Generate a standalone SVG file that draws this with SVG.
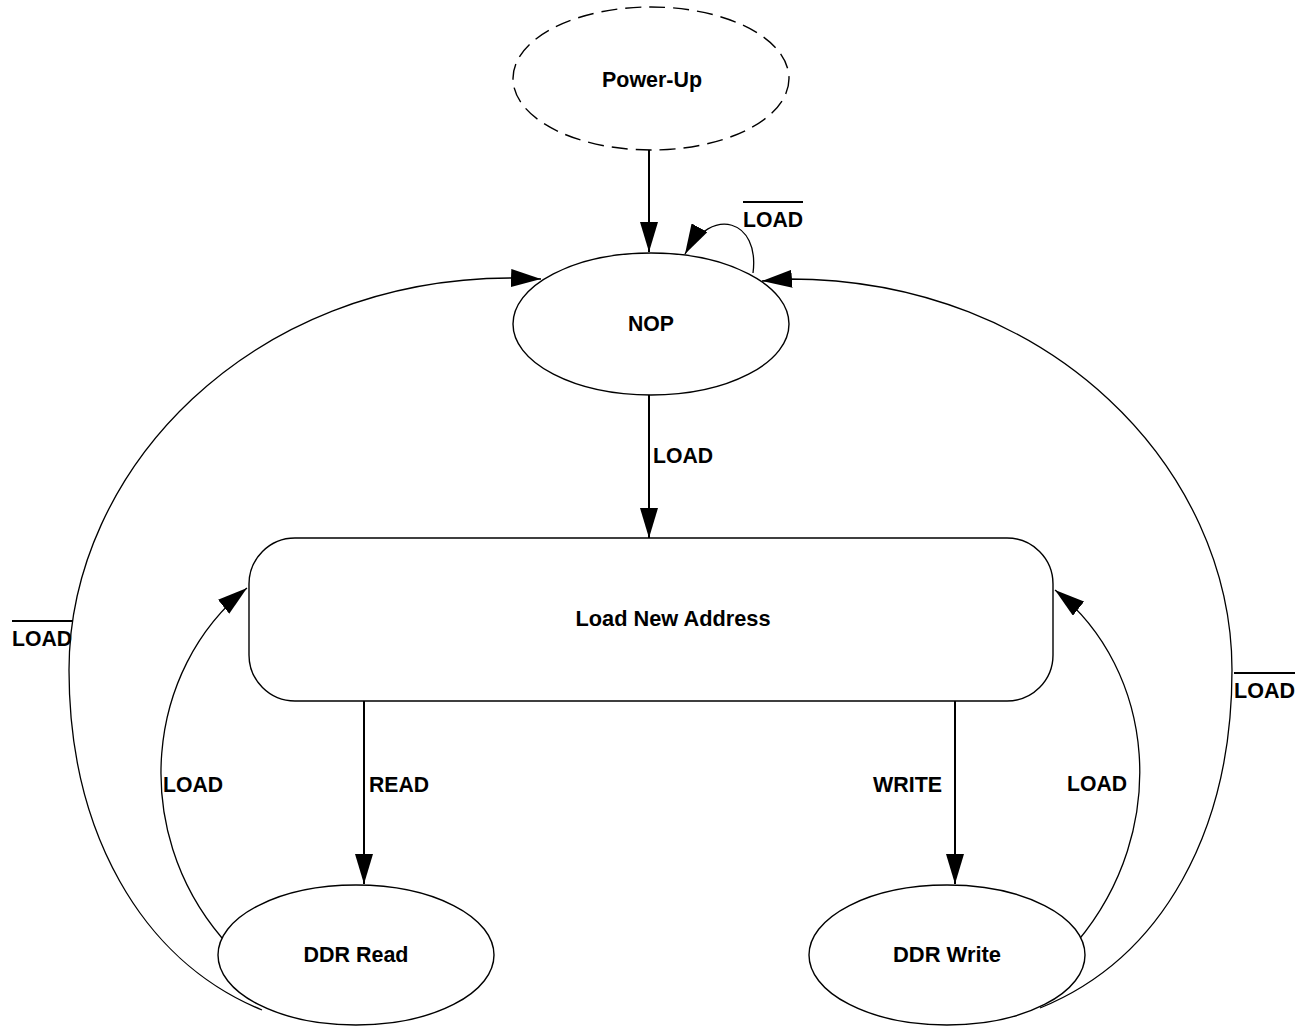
<svg xmlns="http://www.w3.org/2000/svg" width="1307" height="1027" viewBox="0 0 1307 1027">
<style>
.node{fill:#fff;stroke:#000;stroke-width:1.4}
.dash{fill:#fff;stroke:#000;stroke-width:1.4;stroke-dasharray:16 8}
.lbl{font-family:"Liberation Sans",Arial,sans-serif;font-weight:bold;font-size:22.5px;fill:#000}
.mid{text-anchor:middle}
.st{fill:none;stroke:#000;stroke-width:2}
.cv{fill:none;stroke:#000;stroke-width:1.3}
.bar{stroke:#000;stroke-width:2}
</style>
<defs>
<marker id="arr" markerUnits="userSpaceOnUse" markerWidth="30" markerHeight="18" viewBox="0 0 30 18" refX="30" refY="9" orient="auto">
<path d="M0,0 L30,9 L0,18 z" fill="#000"/>
</marker>
</defs>
<rect width="1307" height="1027" fill="#fff"/>
<g id="connectors">
<path class="st" d="M649,150 L649,252" marker-end="url(#arr)"/>
<path class="st" d="M649,395 L649,538" marker-end="url(#arr)"/>
<path class="st" d="M364,701 L364,884" marker-end="url(#arr)"/>
<path class="st" d="M955,701 L955,884" marker-end="url(#arr)"/>
<path class="cv" d="M753,273 C760,220 712,205 685,254" marker-end="url(#arr)"/>
<path class="cv" d="M262,1010 C140,960 69,830 69,670 C69,470 250,278 512,278 L541,279" marker-end="url(#arr)"/>
<path class="cv" d="M1040,1008 C1163,958 1232,830 1232,670 C1232,470 1051,279 789,279 L762,281" marker-end="url(#arr)"/>
<path class="cv" d="M222,938 C130,830 145,670 247,588" marker-end="url(#arr)"/>
<path class="cv" d="M1077,942 C1171,830 1156,670 1055,590" marker-end="url(#arr)"/>
<text class="lbl" x="653" y="463" textLength="60" lengthAdjust="spacingAndGlyphs">LOAD</text>
<text class="lbl" x="369" y="792" textLength="60" lengthAdjust="spacingAndGlyphs">READ</text>
<text class="lbl" x="873" y="792" textLength="69" lengthAdjust="spacingAndGlyphs">WRITE</text>
<text class="lbl" x="163" y="792" textLength="60" lengthAdjust="spacingAndGlyphs">LOAD</text>
<text class="lbl" x="1067" y="791" textLength="60" lengthAdjust="spacingAndGlyphs">LOAD</text>
<text class="lbl" x="743" y="227" textLength="60" lengthAdjust="spacingAndGlyphs">LOAD</text>
<line class="bar" x1="743" y1="202" x2="803" y2="202"/>
<text class="lbl" x="12" y="646" textLength="60" lengthAdjust="spacingAndGlyphs">LOAD</text>
<line class="bar" x1="12" y1="621" x2="73" y2="621"/>
<text class="lbl" x="1234" y="698" textLength="61" lengthAdjust="spacingAndGlyphs">LOAD</text>
<line class="bar" x1="1234" y1="673" x2="1295" y2="673"/>
</g>
<g id="power-up">
<ellipse class="dash" cx="651" cy="78.5" rx="138" ry="71.5"/>
<text class="lbl mid" x="652" y="87" textLength="100" lengthAdjust="spacingAndGlyphs">Power-Up</text>
</g>
<g id="nop">
<ellipse class="node" cx="651" cy="324" rx="138" ry="71"/>
<text class="lbl mid" x="651" y="331" textLength="46" lengthAdjust="spacingAndGlyphs">NOP</text>
</g>
<g id="load-new-address">
<rect class="node" x="249" y="538" width="804" height="163" rx="46" ry="46"/>
<text class="lbl mid" x="673" y="626" textLength="195" lengthAdjust="spacingAndGlyphs">Load New Address</text>
</g>
<g id="ddr-read">
<ellipse class="node" cx="356" cy="955" rx="138" ry="70"/>
<text class="lbl mid" x="356" y="962" textLength="105" lengthAdjust="spacingAndGlyphs">DDR Read</text>
</g>
<g id="ddr-write">
<ellipse class="node" cx="947" cy="955" rx="138" ry="70"/>
<text class="lbl mid" x="947" y="962" textLength="108" lengthAdjust="spacingAndGlyphs">DDR Write</text>
</g>
</svg>
